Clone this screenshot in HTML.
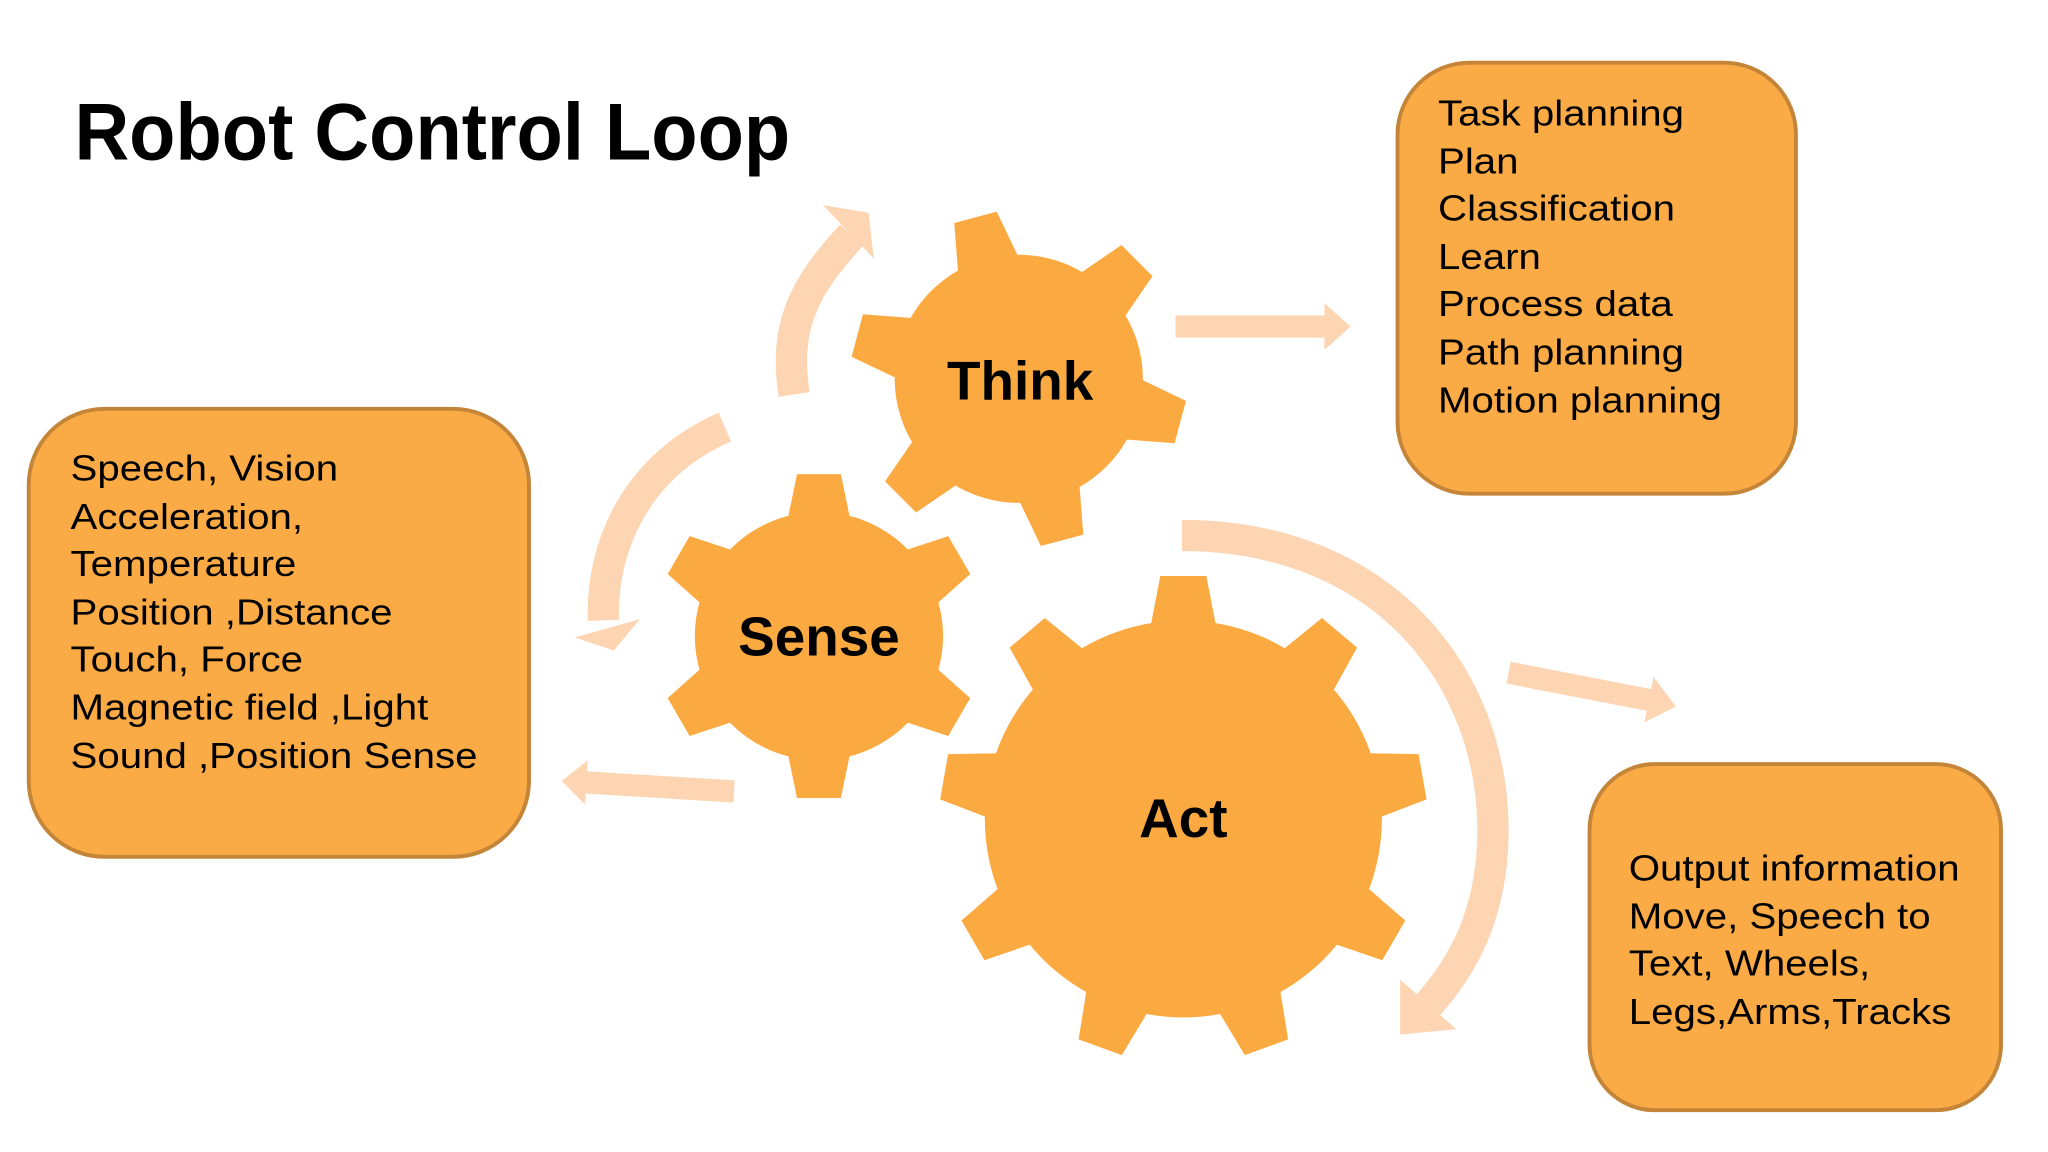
<!DOCTYPE html>
<html><head><meta charset="utf-8"><style>
html,body{margin:0;padding:0;background:#fff;}
svg{display:block;}
text{font-family:"Liberation Sans",sans-serif;}
</style></head><body>
<svg id="s" width="2048" height="1152" viewBox="0 0 1568 882" xmlns="http://www.w3.org/2000/svg">
<rect width="1568" height="882" fill="#fff"/>
<text x="57" y="122" font-size="62" font-weight="bold" fill="#000" textLength="548" lengthAdjust="spacingAndGlyphs">Robot Control Loop</text>

<g fill="none" stroke="#fdd5b3" stroke-width="24">
<path d="M608,302 C600,250 615,220 652,180"/>
<path d="M555,327 C490,355 460,415 462,475"/>
<path d="M905,410 C1060,410 1145,520 1143,640 C1142,700 1120,740 1093,770"/>
<path d="M900,250 L1020,250" stroke-width="17"/>
<path d="M1155,515 L1268,537" stroke-width="17"/>
<path d="M562,606 L448,599" stroke-width="17"/>
</g>
<g fill="#fdd5b3">
<polygon points="630,157 665,163 669,198"/>
<polygon points="440,488 490,474 470,498"/>
<polygon points="1072,750 1115,788 1072,792"/>
<polygon points="1014,232 1034,250 1014,268"/>
<polygon points="1266,518 1283,541 1259,553"/>
<polygon points="450,582 430,598 448,616"/>
</g>

<g id="gears" fill="#fbaa42"></g>

<text x="781" y="306" font-size="42" font-weight="bold" text-anchor="middle">Think</text>
<text x="627" y="502" font-size="42" font-weight="bold" text-anchor="middle">Sense</text>
<text x="906" y="641" font-size="42" font-weight="bold" text-anchor="middle">Act</text>

<g fill="#fbab45" stroke="#c48538" stroke-width="3">
<rect x="22" y="313" width="383" height="343" rx="58"/>
<rect x="1070" y="48" width="305" height="330" rx="55"/>
<rect x="1217" y="585" width="315" height="265" rx="50"/>
</g>
<g font-size="28" fill="#000">
<g transform="translate(54,0) scale(1.1,1) translate(-54,0)">
<text x="54" y="368">Speech, Vision</text>
<text x="54" y="405">Acceleration,</text>
<text x="54" y="441">Temperature</text>
<text x="54" y="478">Position ,Distance</text>
<text x="54" y="514">Touch, Force</text>
<text x="54" y="551">Magnetic field ,Light</text>
<text x="54" y="588">Sound ,Position Sense</text>
</g>
<g transform="translate(1101,0) scale(1.1,1) translate(-1101,0)">
<text x="1101" y="96">Task planning</text>
<text x="1101" y="133">Plan</text>
<text x="1101" y="169">Classification</text>
<text x="1101" y="206">Learn</text>
<text x="1101" y="242">Process data</text>
<text x="1101" y="279">Path planning</text>
<text x="1101" y="316">Motion planning</text>
</g>
<g transform="translate(1247,0) scale(1.1,1) translate(-1247,0)">
<text x="1247" y="674">Output information</text>
<text x="1247" y="711">Move, Speech to</text>
<text x="1247" y="747">Text, Wheels,</text>
<text x="1247" y="784">Legs,Arms,Tracks</text>
</g>
</g>
</svg>
<script>
function gear(cx,cy,rb,ro,n,start,tw){
  var pts=[],step=360/n;
  for(var i=0;i<n;i++){
    var a=(start+i*step)*Math.PI/180;
    var hw=tw/2;
    var ux=Math.cos(a),uy=Math.sin(a),px=-uy,py=ux;
    var ib=Math.sqrt(rb*rb-hw*hw)-4;
    pts.push([cx+ux*ib-px*hw*1.15,cy+uy*ib-py*hw*1.15]);
    pts.push([cx+ux*ro-px*hw*0.8,cy+uy*ro-py*hw*0.8]);
    pts.push([cx+ux*ro+px*hw*0.8,cy+uy*ro+py*hw*0.8]);
    pts.push([cx+ux*ib+px*hw*1.15,cy+uy*ib+py*hw*1.15]);
  }
  var g=document.getElementById('gears');
  var c=document.createElementNS('http://www.w3.org/2000/svg','circle');
  c.setAttribute('cx',cx);c.setAttribute('cy',cy);c.setAttribute('r',rb);g.appendChild(c);
  var p=document.createElementNS('http://www.w3.org/2000/svg','polygon');
  p.setAttribute('points',pts.map(function(q){return q[0].toFixed(1)+','+q[1].toFixed(1)}).join(' '));
  g.appendChild(p);
}
gear(780,290,95,128,6,-105,42);
gear(627,487,95,124,6,-90,42);
gear(906,627,152,186,9,-90,44);
</script>
</body></html>
